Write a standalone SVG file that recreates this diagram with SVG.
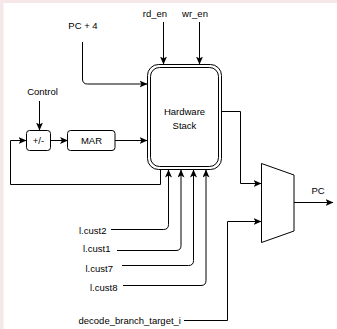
<svg xmlns="http://www.w3.org/2000/svg" width="337" height="329" viewBox="0 0 337 329">
<style>
.t{font-family:"Liberation Sans",Arial,sans-serif;font-size:9.5px;fill:#000}
.m{text-anchor:middle}
.b{fill:#fff;stroke:#000;stroke-width:1}
.c{fill:none;stroke:#000;stroke-width:1}
</style>
<defs>
<marker id="a" viewBox="0 0 8 7" refX="7.5" refY="3.5" markerWidth="8" markerHeight="7" markerUnits="userSpaceOnUse" orient="auto">
<path d="M0,0 L8,3.5 L0,7 L2,3.5 z" fill="#000"/>
</marker>
</defs>
<rect x="0" y="0" width="337" height="329" fill="#fff"/>
<rect x="0" y="0" width="337" height="3" fill="#f6e8e8"/>
<rect x="0" y="0" width="3.5" height="329" fill="#f6e8e8"/>

<g id="connectors">
<path class="c" d="M163.5,22 V64" marker-end="url(#a)"/>
<path class="c" d="M199.5,22 V64" marker-end="url(#a)"/>
<path class="c" d="M82.5,42 V79 Q82.5,84 87.5,84 H147" marker-end="url(#a)"/>
<path class="c" d="M39.5,101 V130" marker-end="url(#a)"/>
<path class="c" d="M51,140.5 H67.5" marker-end="url(#a)"/>
<path class="c" d="M115,140.5 H147" marker-end="url(#a)"/>
<path class="c" d="M160.5,170 V184.5 H10.5 V140.5 H26" marker-end="url(#a)"/>
<path class="c" d="M222,111.5 H240.5 V183.5 H261" marker-end="url(#a)"/>
<path class="c" d="M111,229.5 H163.5 Q168.5,229.5 168.5,224.5 V170" marker-end="url(#a)"/>
<path class="c" d="M117,250.5 H176 Q181,250.5 181,245.5 V170" marker-end="url(#a)"/>
<path class="c" d="M122,265.5 H188.5 Q193.5,265.5 193.5,260.5 V170" marker-end="url(#a)"/>
<path class="c" d="M123,285.5 H201 Q206,285.5 206,280.5 V170" marker-end="url(#a)"/>
<path class="c" d="M184,320.5 H227.5 V221.5 H261" marker-end="url(#a)"/>
<path class="c" d="M294,202.5 H333" marker-end="url(#a)"/>
</g>

<g id="stack">
<rect class="b" x="147.5" y="64.5" width="74" height="105" rx="11"/>
<rect class="c" x="150.5" y="67.5" width="68" height="99" rx="9"/>
<text class="t m" x="184.5" y="114.5">Hardware</text>
<text class="t m" x="184.5" y="128.5">Stack</text>
</g>

<g id="plusminus">
<rect class="b" x="26.5" y="130.5" width="24" height="20" rx="3"/>
<text class="t m" x="38.5" y="144">+/-</text>
</g>

<g id="mar">
<rect class="b" x="67.5" y="130.5" width="47.5" height="20" rx="3"/>
<text class="t m" x="91.5" y="144">MAR</text>
</g>

<g id="mux">
<path class="b" d="M261.5,163.5 L294,175 V231 L261.5,242.5 Z"/>
</g>

<g id="labels">
<text class="t m" x="83" y="28.5">PC + 4</text>
<text class="t m" x="155" y="16.5">rd_en</text>
<text class="t m" x="195" y="16.5">wr_en</text>
<text class="t m" x="42.5" y="95">Control</text>
<text class="t m" x="318" y="193.5">PC</text>
<text class="t" x="79" y="233.5">l.cust2</text>
<text class="t" x="83" y="252">l.cust1</text>
<text class="t" x="85.5" y="271.5">l.cust7</text>
<text class="t" x="90" y="291">l.cust8</text>
<text class="t" x="78.5" y="323.5">decode_branch_target_i</text>
</g>
</svg>
